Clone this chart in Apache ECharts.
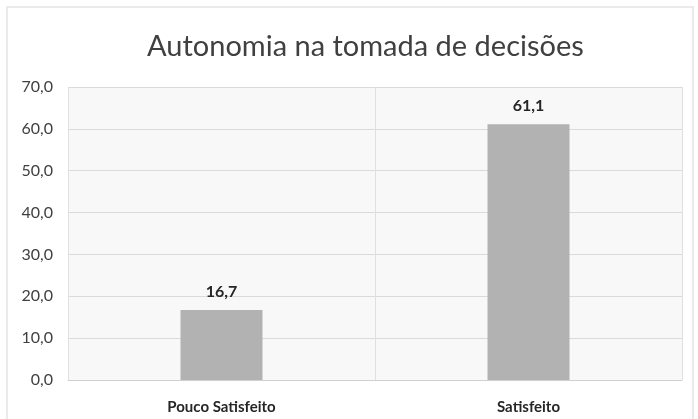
<!DOCTYPE html>
<html>
<head>
<meta charset="utf-8">
<script src="https://cdn.jsdelivr.net/npm/echarts@6/dist/echarts.min.js"></script>
<style>
  html, body { margin: 0; padding: 0; background: #ffffff; }
  #chart { width: 698px; height: 419px; }
</style>
</head>
<body>
<div id="chart"></div>
<script>
var titleText = 'Autonomia na tomada de decisões';
var categories = ['Pouco Satisfeito', 'Satisfeito'];
var values = [16.7, 61.1];
var yMin = 0;
var yMax = 70;
var yStep = 10;

function fmt(v) {
    return v.toFixed(1).replace('.', ',');
}

var chart = echarts.init(document.getElementById('chart'));
var option = {
    backgroundColor: '#ffffff',
    animation: false,
    title: {
        text: titleText,
        left: 142,
        top: 27,
        textStyle: {
            fontFamily: 'Lato',
            fontWeight: 'normal',
            fontSize: 29,
            color: '#404040'
        }
    },
    graphic: [{
        type: 'rect',
        shape: { x: 7, y: 7, width: 686, height: 420 },
        style: { fill: null, stroke: '#e4e4e4', lineWidth: 1.5 },
        silent: true
    }],
    grid: {
        left: 68,
        right: 16,
        top: 87,
        bottom: 39,
        show: true,
        backgroundColor: '#f8f8f8',
        borderWidth: 0
    },
    xAxis: {
        type: 'category',
        data: categories,
        axisLine: { show: true, lineStyle: { color: '#d0d0d0', width: 1 } },
        axisTick: { show: false },
        splitLine: { show: true, lineStyle: { color: '#e0e0e0', width: 1 } },
        axisLabel: {
            fontFamily: 'Lato',
            fontWeight: 'bold',
            fontSize: 15,
            color: '#262626',
            margin: 20
        }
    },
    yAxis: {
        type: 'value',
        min: yMin,
        max: yMax,
        interval: yStep,
        axisLine: { show: false },
        axisTick: { show: false },
        splitLine: { show: true, lineStyle: { color: '#dadada', width: 1 } },
        axisLabel: {
            fontFamily: 'Lato',
            fontSize: 16,
            color: '#404040',
            margin: 15,
            formatter: function (v) { return fmt(v); }
        }
    },
    series: [{
        type: 'bar',
        data: values,
        barWidth: 82,
        itemStyle: { color: '#b2b2b2' },
        label: {
            show: true,
            position: 'top',
            distance: 10,
            fontFamily: 'Lato',
            fontWeight: 'bold',
            fontSize: 16,
            color: '#262626',
            formatter: function (p) { return fmt(p.value); }
        }
    }]
};
chart.setOption(option);
</script>
</body>
</html>
